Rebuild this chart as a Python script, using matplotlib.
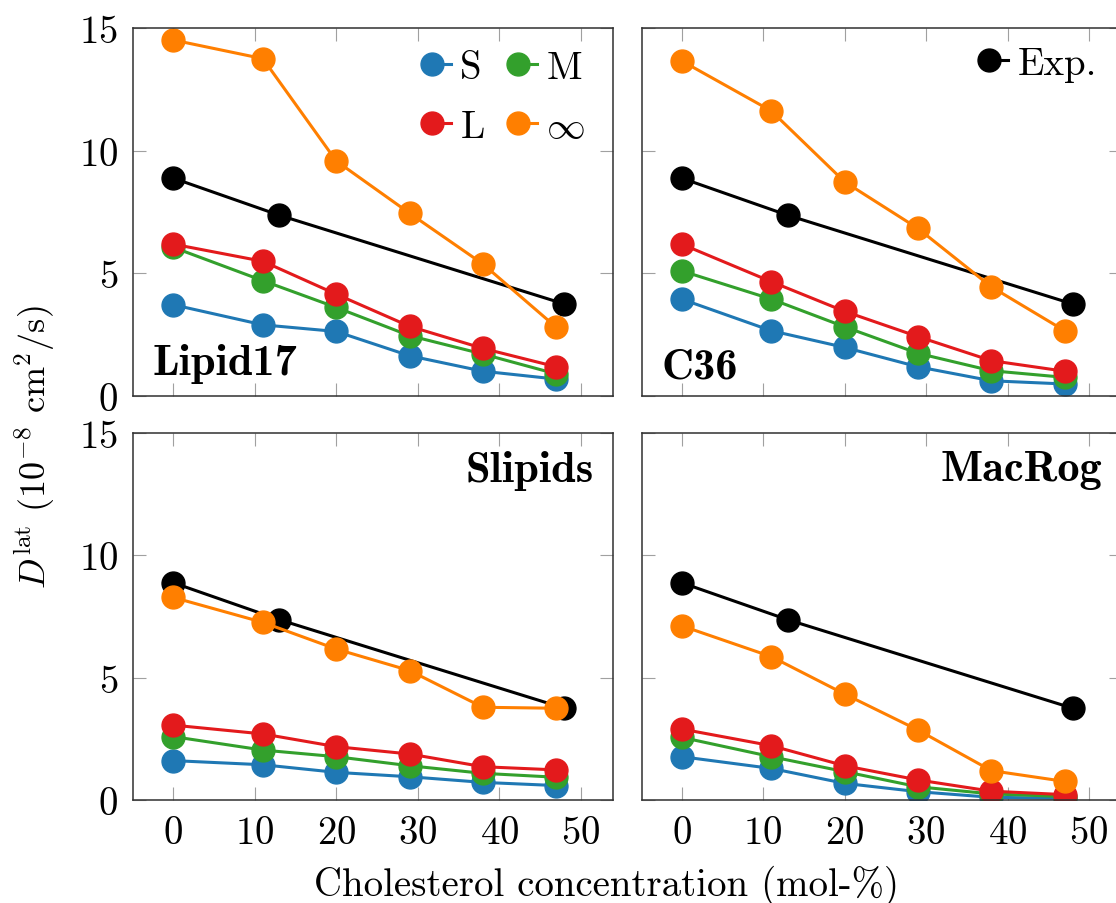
import numpy as np
import matplotlib
matplotlib.use("Agg")
import matplotlib.pyplot as plt
from matplotlib.lines import Line2D
from matplotlib.legend_handler import HandlerLine2DCompound

plt.rcParams['font.family'] = 'serif'
plt.rcParams['font.serif'] = ['cmr10']
plt.rcParams['mathtext.fontset'] = 'cm'
plt.rcParams['axes.formatter.use_mathtext'] = True

# cholesterol concentrations (mol-%)
chol = [0, 11, 20, 29, 38, 47]
chol_exp = [0, 13, 48]
d_exp = [8.88, 7.37, 3.75]

force_fields = ['Lipid17', 'C36', 'Slipids', 'MacRog']

# lateral diffusion, 1e-8 cm^2/s, per box size
d_small = {
    'Lipid17': [3.72, 2.90, 2.63, 1.64, 1.01, 0.69],
    'C36':     [3.95, 2.66, 1.98, 1.19, 0.62, 0.49],
    'Slipids': [1.61, 1.44, 1.13, 0.95, 0.72, 0.59],
    'MacRog':  [1.77, 1.29, 0.68, 0.34, 0.11, 0.07],
}
d_medium = {
    'Lipid17': [6.06, 4.70, 3.61, 2.46, 1.71, 0.90],
    'C36':     [5.10, 3.95, 2.82, 1.74, 1.03, 0.76],
    'Slipids': [2.59, 2.04, 1.77, 1.40, 1.09, 0.93],
    'MacRog':  [2.56, 1.77, 1.16, 0.54, 0.25, 0.14],
}
d_large = {
    'Lipid17': [6.19, 5.49, 4.15, 2.84, 1.94, 1.19],
    'C36':     [6.19, 4.66, 3.45, 2.42, 1.44, 1.01],
    'Slipids': [3.06, 2.70, 2.18, 1.88, 1.36, 1.23],
    'MacRog':  [2.90, 2.22, 1.40, 0.82, 0.36, 0.22],
}
d_inf = {
    'Lipid17': [14.51, 13.75, 9.58, 7.45, 5.38, 2.80],
    'C36':     [13.66, 11.62, 8.73, 6.83, 4.45, 2.66],
    'Slipids': [8.28, 7.26, 6.17, 5.29, 3.79, 3.75],
    'MacRog':  [7.12, 5.86, 4.33, 2.86, 1.20, 0.76],
}

series = [('S', d_small, '#1f78b4'),
          ('M', d_medium, '#33a02c'),
          ('L', d_large, '#e31a1c'),
          (r'$\infty$', d_inf, '#ff7f00')]


class DotFirst(HandlerLine2DCompound):
    # marker sits at the start of the legend line
    def get_xdata(self, legend, xdescent, ydescent, width, height, fontsize):
        xdata = np.array([-xdescent + 0.37 * width, -xdescent + width])
        return xdata, np.array([-xdescent + 0.37 * width])


fig = plt.figure(figsize=(11.16, 9.04), dpi=100)
W, H = 1116, 904
boxes = [(133.3, 29, 480, 368), (641.7, 29, 480, 368),
         (133.3, 434, 480, 367), (641.7, 434, 480, 367)]

ms, lw = 16.5, 2.2
fs = 28
leg_kw = dict(frameon=False, fontsize=fs, handlelength=0.77,
              handletextpad=0.245, borderpad=0, borderaxespad=0,
              numpoints=1, handler_map={Line2D: DotFirst()})

for i, (ff, (x0, y0, w, h)) in enumerate(zip(force_fields, boxes)):
    ax = fig.add_axes([x0 / W, 1 - (y0 + h) / H, w / W, h / H])
    exp_line, = ax.plot(chol_exp, d_exp, '-o', color='black', lw=lw, ms=ms)
    handles = []
    for label, data, c in series:
        ln, = ax.plot(chol, data[ff], '-o', color=c, lw=lw, ms=ms, label=label)
        handles.append(ln)

    ax.set_xlim(-4.9, 54)
    ax.set_ylim(0, 15)
    ax.set_xticks([0, 10, 20, 30, 40, 50])
    ax.set_yticks([0, 5, 10, 15])
    ax.tick_params(direction='in', length=9.5, width=0.8, color='#a0a0a0',
                   top=True, right=True, labelsize=fs, pad=10.8)
    for sp in ax.spines.values():
        sp.set_color('#303030')
        sp.set_linewidth(1.1)
    if i < 2:
        ax.tick_params(labelbottom=False)
    if i % 2 == 1:
        ax.tick_params(labelleft=False)

    if i == 0:
        ax.text(0.04, 0.06, ff, transform=ax.transAxes, fontsize=32,
                family='cmb10', ha='left', va='baseline')
    elif i == 1:
        ax.text(0.042, 0.05, ff, transform=ax.transAxes, fontsize=32,
                family='cmb10', ha='left', va='baseline')
    else:
        ax.text(0.96, 0.955, ff, transform=ax.transAxes, fontsize=32,
                family='cmb10', ha='right', va='top')

    if i == 0:
        order = [handles[0], handles[2], handles[1], handles[3]]
        ax.legend(handles=order, labels=[h.get_label() for h in order],
                  ncol=2, loc='upper right', bbox_to_anchor=(0.941, 0.94),
                  columnspacing=0.57, labelspacing=0.6, **leg_kw)
    if i == 1:
        ax.legend(handles=[exp_line], labels=['Exp.'], loc='upper right',
                  bbox_to_anchor=(0.948, 0.952), **leg_kw)

fig.text(35 / W, 1 - 447 / H, r'$D^{\mathrm{lat}}$ ($10^{-8}$ cm$^2$/s)',
         rotation=90, ha='center', va='center', fontsize=26)
fig.text(606 / W, 1 - 896 / H, 'Cholesterol concentration (mol-%)',
         ha='center', va='baseline', fontsize=fs)

fig.savefig('out.png', dpi=100)
